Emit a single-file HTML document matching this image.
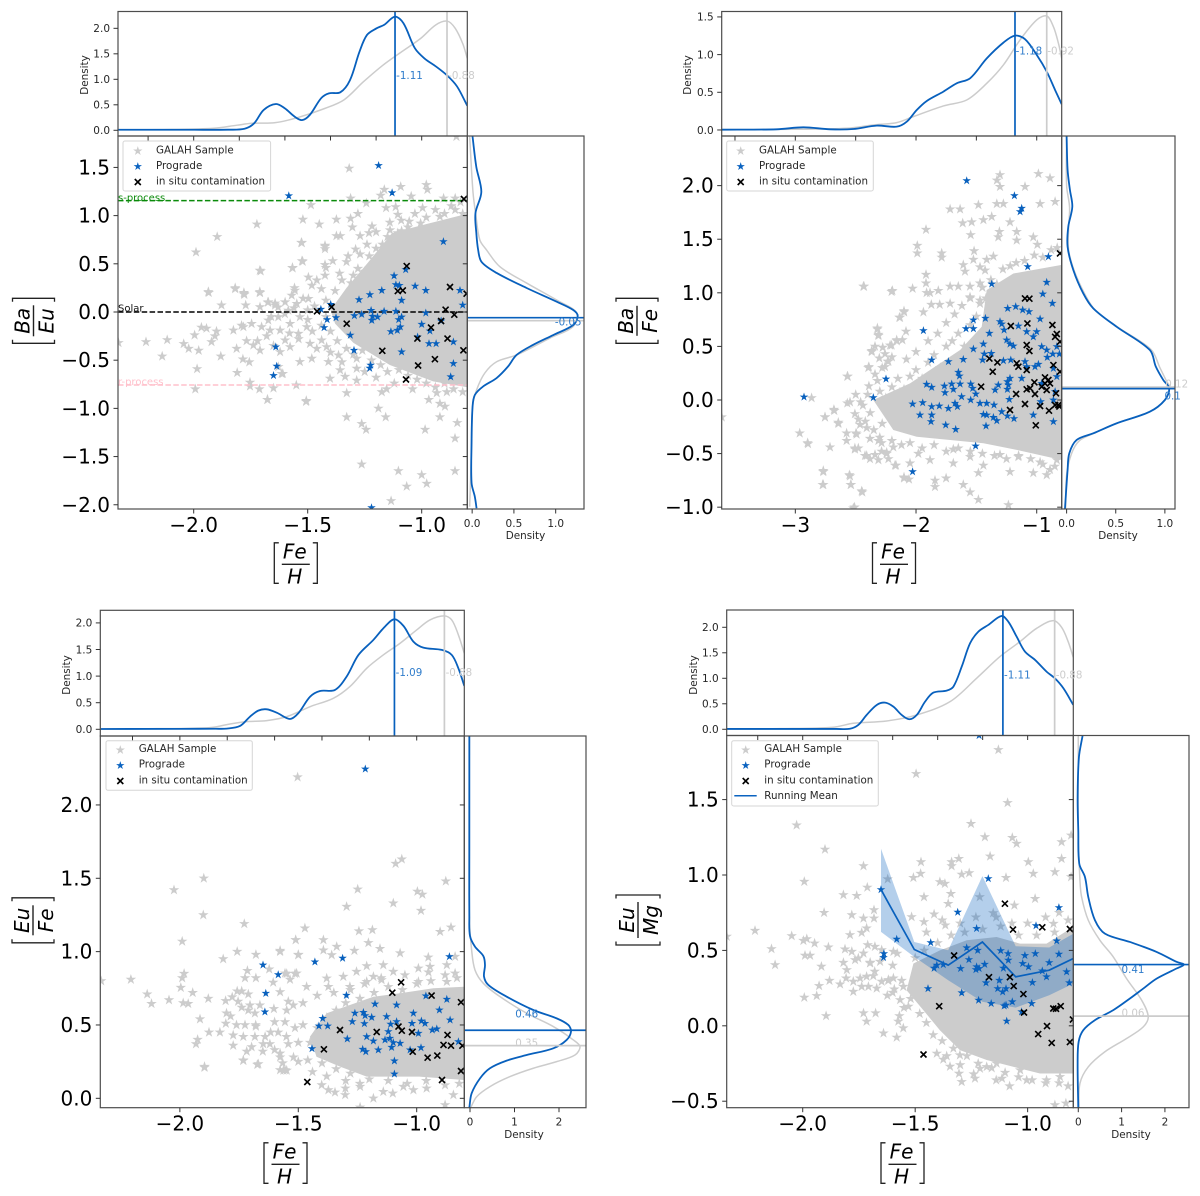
<!DOCTYPE html>
<html lang="en">
<head>
<meta charset="utf-8">
<title>Abundance ratios versus metallicity</title>
<style>
html,body{margin:0;padding:0;background:#fff;width:1200px;height:1196px;overflow:hidden}
svg{display:block;filter:blur(.3px)}
text{font-family:"DejaVu Sans","Liberation Sans",sans-serif;fill:#262626}
.leg{font-size:10.3px}
.small{font-size:10.4px}
.math{font-size:20px;font-style:italic;fill:#000;text-anchor:middle}
.br{fill:none;stroke:#222;stroke-width:1.3}
.bar{stroke:#222;stroke-width:1.4}
.box{fill:#fff;fill-opacity:.85;stroke:#d6d6d6;stroke-width:1}
.mk{stroke-width:.8;stroke-linejoin:miter}
</style>
</head>
<body>
<svg xmlns="http://www.w3.org/2000/svg" width="1200" height="1196" viewBox="0 0 1200 1196">
<rect width="1200" height="1196" fill="#fff"/>
<g id="panelA"></g>
<g id="panelB"></g>
<g id="panelC"></g>
<g id="panelD"></g>

<g>
<text x="118" y="201" font-size="10" style="fill:#0a8a0a">s-process</text>
<text x="118" y="311.5" font-size="10" style="fill:#111">Solar</text>
<text x="118" y="385" font-size="10" style="fill:#ffc0cb">r-process</text>
</g>

<g>
<rect class="box" x="123" y="141" width="147.6" height="50" rx="2"/>
<path class="mk" transform="translate(137.8,151)" fill="#cccccc" stroke="#cccccc" d="M0,-3.6L.81,-1.11 3.42,-1.11 1.31,.42 2.12,2.91 0,1.37 -2.12,2.91 -1.31,.42 -3.42,-1.11 -.81,-1.11Z"/>
<path class="mk" transform="translate(137.8,166.5) scale(.9)" fill="#0b63c0" stroke="#0b63c0" d="M0,-3.6L.81,-1.11 3.42,-1.11 1.31,.42 2.12,2.91 0,1.37 -2.12,2.91 -1.31,.42 -3.42,-1.11 -.81,-1.11Z"/>
<path transform="translate(137.8,182)" stroke="#000" stroke-width="1.6" fill="none" d="M-3,-3L3,3M-3,3L3,-3"/>
<text class="leg" x="156" y="153.5">GALAH Sample</text>
<text class="leg" x="156" y="169">Prograde</text>
<text class="leg" x="156" y="184.5">in situ contamination</text>
</g>

<g>
<rect class="box" x="726.7" y="141" width="146.6" height="50" rx="2"/>
<path class="mk" transform="translate(740.7,151)" fill="#cccccc" stroke="#cccccc" d="M0,-3.6L.81,-1.11 3.42,-1.11 1.31,.42 2.12,2.91 0,1.37 -2.12,2.91 -1.31,.42 -3.42,-1.11 -.81,-1.11Z"/>
<path class="mk" transform="translate(740.7,166.5) scale(.9)" fill="#0b63c0" stroke="#0b63c0" d="M0,-3.6L.81,-1.11 3.42,-1.11 1.31,.42 2.12,2.91 0,1.37 -2.12,2.91 -1.31,.42 -3.42,-1.11 -.81,-1.11Z"/>
<path transform="translate(740.7,182)" stroke="#000" stroke-width="1.6" fill="none" d="M-3,-3L3,3M-3,3L3,-3"/>
<text class="leg" x="759" y="153.5">GALAH Sample</text>
<text class="leg" x="759" y="169">Prograde</text>
<text class="leg" x="759" y="184.5">in situ contamination</text>
</g>

<g>
<rect class="box" x="106" y="740.7" width="146.3" height="49.6" rx="2"/>
<path class="mk" transform="translate(120.3,750)" fill="#cccccc" stroke="#cccccc" d="M0,-3.6L.81,-1.11 3.42,-1.11 1.31,.42 2.12,2.91 0,1.37 -2.12,2.91 -1.31,.42 -3.42,-1.11 -.81,-1.11Z"/>
<path class="mk" transform="translate(120.3,765.5) scale(.9)" fill="#0b63c0" stroke="#0b63c0" d="M0,-3.6L.81,-1.11 3.42,-1.11 1.31,.42 2.12,2.91 0,1.37 -2.12,2.91 -1.31,.42 -3.42,-1.11 -.81,-1.11Z"/>
<path transform="translate(120.3,781)" stroke="#000" stroke-width="1.6" fill="none" d="M-3,-3L3,3M-3,3L3,-3"/>
<text class="leg" x="138.7" y="752">GALAH Sample</text>
<text class="leg" x="138.7" y="767.7">Prograde</text>
<text class="leg" x="138.7" y="783.4">in situ contamination</text>
</g>

<g>
<rect class="box" x="731.7" y="740.7" width="146.6" height="65.3" rx="2"/>
<path class="mk" transform="translate(745.7,750)" fill="#cccccc" stroke="#cccccc" d="M0,-3.6L.81,-1.11 3.42,-1.11 1.31,.42 2.12,2.91 0,1.37 -2.12,2.91 -1.31,.42 -3.42,-1.11 -.81,-1.11Z"/>
<path class="mk" transform="translate(745.7,765.5) scale(.9)" fill="#0b63c0" stroke="#0b63c0" d="M0,-3.6L.81,-1.11 3.42,-1.11 1.31,.42 2.12,2.91 0,1.37 -2.12,2.91 -1.31,.42 -3.42,-1.11 -.81,-1.11Z"/>
<path transform="translate(745.7,781)" stroke="#000" stroke-width="1.6" fill="none" d="M-3,-3L3,3M-3,3L3,-3"/>
<line x1="734.3" x2="756.7" y1="795.7" y2="795.7" stroke="#0b63c0" stroke-width="1.5"/>
<text class="leg" x="764.3" y="752">GALAH Sample</text>
<text class="leg" x="764.3" y="767.7">Prograde</text>
<text class="leg" x="764.3" y="783.4">in situ contamination</text>
<text class="leg" x="764.3" y="799">Running Mean</text>
</g>

<g>
<text class="small" transform="translate(88,75) rotate(-90)" text-anchor="middle">Density</text>
<text class="small" x="525.5" y="539" text-anchor="middle">Density</text>
<text class="small" transform="translate(691,75) rotate(-90)" text-anchor="middle">Density</text>
<text class="small" x="1118" y="539" text-anchor="middle">Density</text>
<text class="small" transform="translate(70,675) rotate(-90)" text-anchor="middle">Density</text>
<text class="small" x="524" y="1138" text-anchor="middle">Density</text>
<text class="small" transform="translate(697,675) rotate(-90)" text-anchor="middle">Density</text>
<text class="small" x="1131" y="1138" text-anchor="middle">Density</text>
</g>

<g transform="translate(33.5,320.8) rotate(-90)">
<path class="br" d="M-19,-21H-22.5V21H-19M19,-21H22.5V21H19"/><line class="bar" x1="-15.5" x2="15.5" y1="0" y2="0"/>
<text class="math" x="0" y="-4">Ba</text><text class="math" x="0" y="20">Eu</text></g>
<g transform="translate(637,320.8) rotate(-90)">
<path class="br" d="M-19,-21H-22.5V21H-19M19,-21H22.5V21H19"/><line class="bar" x1="-15" x2="15" y1="0" y2="0"/>
<text class="math" x="0" y="-4">Ba</text><text class="math" x="0" y="20">Fe</text></g>
<g transform="translate(33,920.3) rotate(-90)">
<path class="br" d="M-19,-21H-22.5V21H-19M19,-21H22.5V21H19"/><line class="bar" x1="-15" x2="15" y1="0" y2="0"/>
<text class="math" x="0" y="-4">Eu</text><text class="math" x="0" y="20">Fe</text></g>
<g transform="translate(638,920) rotate(-90)">
<path class="br" d="M-21.5,-22H-25V22H-21.5M21.5,-22H25V22H21.5"/><line class="bar" x1="-18" x2="18" y1="0" y2="0"/>
<text class="math" x="0" y="-4">Eu</text><text class="math" x="0" y="20">Mg</text></g>

<g transform="translate(295.8,564.3)">
<path class="br" d="M-17,-21.5H-21.5V19H-17M17,-21.5H21.5V19H17"/><line class="bar" x1="-14" x2="14" y1="0" y2="0"/>
<text class="math" x="-1" y="-6">Fe</text><text class="math" x="-1" y="19">H</text></g>
<g transform="translate(894,564.3)">
<path class="br" d="M-17,-21.5H-21.5V19H-17M17,-21.5H21.5V19H17"/><line class="bar" x1="-14" x2="14" y1="0" y2="0"/>
<text class="math" x="-1" y="-6">Fe</text><text class="math" x="-1" y="19">H</text></g>
<g transform="translate(285.5,1164.3)">
<path class="br" d="M-17,-21.5H-21.5V19H-17M17,-21.5H21.5V19H17"/><line class="bar" x1="-14" x2="14" y1="0" y2="0"/>
<text class="math" x="-1" y="-6">Fe</text><text class="math" x="-1" y="19">H</text></g>
<g transform="translate(902.5,1164.3)">
<path class="br" d="M-17,-21.5H-21.5V19H-17M17,-21.5H21.5V19H17"/><line class="bar" x1="-14" x2="14" y1="0" y2="0"/>
<text class="math" x="-1" y="-6">Fe</text><text class="math" x="-1" y="19">H</text></g>
</svg>

<script>
/* ---------- Panel A: [Ba/Eu] ---------- */
const aGalahDense=[[-1.4,.02],[-1.33,.25],[-1.24,.5],[-1.13,.82],[-1,.9],[-.8,1.02],[-.8,-.78],[-.95,-.72],[-1.14,-.55],[-1.3,-.32],[-1.38,-.12]];
const aGalah=[[-1.934,.2],[-1.818,.24],[-1.778,.18],[-1.71,.2],[-1.878,.07],[-1.772,.07],[-1.675,.1],[-1.643,.09],[-2.209,-.31],[-2.116,-.29],[-2.33,-.32],[-1.996,-.24],[-1.966,-.16],[-1.944,-.17],[-1.9,-.2],[-1.907,-.25],[-1.922,-.31],[-2.044,-.33],[-2.022,-.38],[-1.978,-.4],[-2.138,-.46],[-1.881,-.46],[-1.826,-.19],[-1.79,-.14],[-1.768,-.3],[-1.812,-.38],[-1.784,-.49],[-1.756,-.52],[-1.985,-.59],[-1.809,-.63],[-1.753,-.73],[-1.753,-.77],[-1.712,-.8],[-1.65,-.79],[-1.993,-.8],[-1.676,-.91],[-1.506,-.92],[-1.55,-.76],[-1.609,-.64],
[-1.318,1.49],[-1.164,1.27],[-1.092,1.3],[-.98,1.32],[-.975,1.27],[-1.312,1.18],[-1.486,1.11],[-1.18,1.21],[-1.046,1.2],[-.904,1.18],[-.853,1.18],[-1.156,1.08],[-1.114,1.09],[-.996,1.08],[-.92,.99],[-1.28,1.02],[-1.243,1.13],[-1.521,.96],[-1.374,.96],[-1.312,.97],[-1.449,.91],[-1.723,.91],[-1.897,.78],[-1.99,.62],[-1.528,.72],[-1.424,.68],[-1.374,.79],[-1.357,.79],[-1.27,.79],[-1.231,.82],[-1.218,.89],[-1.304,.88],[-1.139,.85],[-1.088,.84],[-1.055,.94],[-1.005,.92],[-1.105,1.01],[-.82,1.02],[-.853,1.06],[-1.525,.53],[-1.567,.46],[-1.71,.43],[-1.497,.36],[-1.424,.49],[-1.424,.38],[-1.39,.53],[-1.323,.58],[-1.29,.65],[-1.24,.7],[-1.172,.7],[-1.105,.82],[-1.818,.25],[-1.78,.2],[-1.71,.21],[-1.936,.21],[-1.558,.25],[-.848,1.82],
[-1.329,-1.09],[-1.263,-1.16],[-1.244,-1.22],[-1.158,-1.09],[-1.19,-1],[-.985,-1.22],[-.92,-1.09],[-.844,-1.15],[-.854,-1.31],[-.969,-.91],[-.92,-.95],[-.898,-.98],[-1.507,-.93],[-1.677,-.91],[-1.263,-1.58],[-1.102,-1.65],[-1,-1.69],[-.854,-1.65],[-1.066,-1.81],[-.978,-1.78],[-1.134,-1.96],[-1.329,-.84],[-1.175,-.83],[-1.154,-.8],[-.934,-.84],[-.89,-.83],[-1.285,-.71],[-1.402,-.69],[-1.336,-.67],[-1.614,-.64],
[-1.706,.424],[-1.566,.455],[-1.522,.524],[-1.526,.717],[-1.424,.69],[-1.424,.655],[-1.779,.19],[-1.709,.2],[-1.556,.224],[-1.57,.172],[-1.482,.276],[-1.599,.103],[-1.643,.069],[-1.673,.103],[-1.709,.052],[-1.497,.138],[-1.548,.086],[-1.585,.017],[-1.629,-.052],[-1.673,-.086],[-1.702,-.155],[-1.746,-.121],[-1.782,-.155],[-1.534,-.052],[-1.577,-.121],[-1.621,-.19],[-1.504,-.155],[-1.541,-.224],[-1.599,-.293],[-1.49,-.328],[-1.439,-.293],[-1.534,-.517],[-1.482,-.483],[-1.409,-.517],[-1.629,-.569],[-1.417,-.362],[-1.365,-.448],[-1.285,-.586],[-1.358,-.603],[-1.285,-.483],[-1.738,-.345],[-1.709,-.397],[-1.665,-.19],[-1.621,-.414],[-1.577,-.362],
[-1.42,.12],[-1.38,.22],[-1.35,.33],[-1.31,.3],[-1.28,.45],[-1.25,.42],[-1.23,.58],[-1.2,.66],[-1.17,.62],[-1.15,.78],[-1.12,.72],[-1.09,.95],[-1.06,.88],[-1.03,1.02],[-.98,.98],[-.94,1.06],[-.9,1.02],[-.87,1.1],[-.83,1.14],[-.81,.98],[-1.2,.52],[-1.3,.38],[-1.36,.4],[-1.44,.24],[-1.47,.06],[-1.5,.02],[-1.52,.14],[-1.46,.33],[-1.42,.46],[-1.33,.52],[-1.27,.6],[-1.2,.83],[-1.14,.93],
[-1.42,-.05],[-1.44,-.14],[-1.4,-.2],[-1.37,-.3],[-1.33,-.38],[-1.3,-.44],[-1.26,-.4],[-1.22,-.5],[-1.18,-.55],[-1.15,-.62],[-1.1,-.6],[-1.06,-.66],[-1.02,-.7],[-.98,-.74],[-.94,-.78],[-.9,-.74],[-.86,-.8],[-.82,-.83],[-1.48,-.2],[-1.5,-.08],[-1.46,-.38],[-1.4,-.42],[-1.35,-.52],[-1.25,-.62],[-1.2,-.68],[-1.12,-.74],[-1.04,-.8],[-1.56,.04],[-1.6,-.02],[-1.63,.05],[-1.54,-.28],[-1.58,-.22],[-1.66,-.05],[-1.68,-.25],[-1.72,-.3],[-1.65,-.35]];
const aPrograde=[[-.905,.73],[-1.07,.44],[-1.121,.376],[-1.113,.283],[-1.098,.276],[-1.029,.269],[-.982,.224],[-1.175,.224],[-1.227,.179],[-1.275,.128],[-1.088,.121],[-.832,.224],[-.82,.072],[-1.442,.028],[-1.399,.079],[-1.222,.017],[-1.165,.007],[-1.113,.007],[-.982,-.01],[-1.295,-.038],[-1.263,-.024],[-1.216,-.045],[-1.194,-.052],[-1.219,-.086],[-1.376,-.059],[-1.415,-.079],[-1.428,-.162],[-1.088,-.052],[-1.101,-.079],[-1.094,-.155],[-1.107,-.19],[-1.135,-.203],[-1.313,-.241],[-1,-.128],[-.964,-.197],[-.915,-.093],[-.861,-.31],[-.968,-.328],[-.937,-.328],[-1.297,-.397],[-1.088,-.414],[-1.224,-.552],[-1.228,-.583],[-.861,-.534],[-.873,-.672],[-1.64,-.362],[-1.636,-.562],[-1.65,-.659],[-1.018,-.259],[-1.22,-2.03],[-1.189,1.52],[-1.13,1.237],[-1.583,1.206]];
const aContamination=[[-1.066,.476],[-1.105,.217],[-1.083,.224],[-.876,.259],[-.803,.19],[-1.395,.052],[-1.459,.007],[-.895,.024],[-.857,-.028],[-1.329,-.121],[-.915,-.093],[-.959,-.162],[-1.019,-.276],[-.887,-.276],[-1.173,-.403],[-.817,-.397],[-.942,-.49],[-1.016,-.555],[-1.069,-.7],[-.815,1.172]];
const aTopProgradeDensity=[[-2.332,.01],[-2,.01],[-1.85,.012],[-1.777,.03],[-1.735,.137],[-1.693,.4],[-1.639,.516],[-1.6,.43],[-1.558,.27],[-1.525,.2],[-1.491,.3],[-1.441,.63],[-1.407,.725],[-1.357,.745],[-1.315,.98],[-1.273,1.54],[-1.24,1.87],[-1.198,2],[-1.164,2.07],[-1.117,2.23],[-1.08,2.1],[-1.03,1.61],[-.988,1.41],[-.937,1.25],[-.887,1.07],[-.845,.86],[-.8,.48]];
const aTopGalahDensity=[[-2.332,.01],[-2.1,.015],[-1.911,.04],[-1.81,.1],[-1.743,.137],[-1.642,.15],[-1.54,.255],[-1.424,.43],[-1.34,.6],[-1.256,.95],[-1.172,1.27],[-1.088,1.54],[-1.005,1.8],[-.937,2.07],[-.887,2.14],[-.853,2],[-.82,1.7],[-.8,1.41]];
const aRightProgradeDensity=[[.004,1.826],[.05,1.504],[.11,1.245],[.04,1.027],[.05,.82],[.072,.643],[.113,.519],[.293,.405],[.652,.249],[1.012,.107],[1.21,.021],[1.264,-.041],[1.21,-.135],[.971,-.239],[.728,-.342],[.532,-.446],[.428,-.567],[.293,-.685],[.128,-.775],[.032,-.861],[.005,-.982],[-.007,-1.359],[-.007,-1.774],[.032,-1.916],[.053,-2.036]];
const aRightGalahDensity=[[-.03,1.826],[.01,1.245],[.044,1.006],[.092,.747],[.173,.643],[.332,.47],[.652,.3],[1.012,.124],[1.252,-.01],[1.207,-.152],[.932,-.27],[.532,-.446],[.293,-.516],[.152,-.633],[.053,-.809],[.005,-.982],[-.012,-1.566],[-.03,-2.02]];
const aXTicks=[-2,-1.5,-1];
const aXTickLabels=['\u22122.0','\u22121.5','\u22121.0'];
const aYTicks=[1.5,1,.5,0,-.5,-1,-1.5,-2];
const aYTickLabels=['1.5','1.0','0.5','0.0','\u22120.5','\u22121.0','\u22121.5','\u22122.0'];
const aTopXTicks=[-2.2,-2,-1.8,-1.6,-1.4,-1.2,-1];
const aTopYTicks=[0,.5,1,1.5,2];
const aTopYTickLabels=['0.0','0.5','1.0','1.5','2.0'];
const aRightXTicks=[0,.5,1];
const aRightXTickLabels=['0.0','0.5','1.0'];
const aTopMeans=[-.889,-1.117];
const aTopMeanLabels=['-0.88','-1.11'];
const aTopMeanLabelAt=[[-.884,1.08],[-1.112,1.08]];
const aRightMeans=[-.09,-.059];
const aRightMeanLabels=['-0.05'];
const aRightMeanLabelAt=[[1.15,-.103]];
const aRefLineValues=[1.155,0,-.757];

/* ---------- Panel B: [Ba/Fe] ---------- */
const bGalahDense=[[-2.354,0],[-2.05,.155],[-1.884,.28],[-1.635,.466],[-1.456,.684],[-1.414,1.026],[-1.193,1.18],[-.793,1.26],[-.793,-.56],[-1.166,-.466],[-1.442,-.404],[-1.718,-.373],[-1.994,-.342],[-2.188,-.28]];
const bGalah=[[-2.865,.02],[-2.964,-.31],[-2.898,-.4],[-2.754,-.16],[-2.68,-.09],[-2.644,-.21],[-2.768,-.66],[-2.773,-.79],[-2.713,-.44],[-2.575,-.38],[-2.552,-.7],[-2.539,-.79],[-2.45,-.85],[-2.51,-1],[-3.61,-.16],[-2.431,1.06],[-2.196,1.02],[-2.1,.83],[-2.138,.77],[-2.32,.67],[-2.312,.61],[-2.367,.46],[-2.34,.5],[-2.276,.49],[-2.202,.51],[-2.16,.56],[-2.113,.56],[-2.083,.64],[-2.304,.39],[-2.257,.43],[-2.235,.36],[-2.39,.31],[-2.569,.22],[-2.34,.24],[-2.257,.31],[-2.39,.13],[-2.547,-.02],[-2.569,-.03],[-2.459,-.02],[-2.506,-.13],[-2.478,-.18],[-2.464,-.23],[-2.409,-.26],[-2.497,-.31],[-2.381,-.36],[-2.312,-.38],[-2.285,-.4],[-2.506,-.45],[-2.478,-.45],[-2.188,-.44],[-2.409,-.52],[-2.381,-.55],[-2.312,-.56],[-2.34,-.51],[-2.285,-.48],[-2.243,-.49],[-2.229,-.55],[-2.166,-.61],[-2.1,-.72],[-2.058,-.74],
[-1.304,2.1],[-.986,2.11],[-.89,2.07],[-1.304,1.99],[-1.33,2.05],[-1.097,1.99],[-1.483,1.82],[-1.718,1.78],[-1.635,1.78],[-1.331,1.83],[-1.276,1.83],[-.972,1.83],[-.848,1.85],[-1.917,1.59],[-1.613,1.65],[-1.539,1.66],[-1.442,1.68],[-1.373,1.71],[-1.221,1.66],[-1.547,1.54],[-1.309,1.57],[-1.318,1.52],[-1.166,1.57],[-1.166,1.49],[-1.028,1.52],[-.994,1.45],[-1.989,1.44],[-1.989,1.37],[-1.787,1.37],[-1.787,1.33],[-1.519,1.39],[-1.525,1.31],[-1.359,1.34],[-1.414,1.31],[-1.608,1.26],[-1.594,1.2],[-1.47,1.24],[-1.428,1.21],[-1.917,1.17],[-1.917,1.09],[-2.436,1.06],[-2.202,1.01],[-2.028,1.04],[-1.912,1],[-1.884,1],[-1.815,1.02],[-1.718,1.06],[-1.65,1.06],[-1.553,1.06],[-1.47,1.09],[-1.873,.89],[-1.804,.89],[-1.718,.9],[-1.553,.96],[-1.47,.93],[-2.099,.82],[-2.133,.77],[-1.939,.82],[-2.32,.66],[-2.312,.6],[-2.16,.55],[-2.215,.51],[-2.367,.45],[-2.229,.36],[-2.566,.22],[-2.395,.3],[-2.677,-.1],[-2.754,-.16],[-2.643,-.22],[-2.575,-.31],[-2.492,-.32],[-2.895,-.41],[-2.506,-.46],[-2.423,-.52],[-2.243,-.5],[-2.174,-.61],[-2.05,-.59],[-1.981,-.5],[-1.884,-.56],[-1.691,-.59],[-2.768,-.67],[-2.768,-.79],[-2.547,-.71],[-2.541,-.79],[-2.445,-.86],[-2.099,-.73],[-1.843,-.75],[-1.751,-.73],[-1.843,-.81],[-1.608,-.79],[-1.552,-.86],[-1.483,-.93],[-1.483,-.68],[-1.235,-.98],[-1.221,-.67],[-1.028,-.68],[-.917,-.7],[-.89,-.65],[-1.304,-.51],[-1.152,-.53],[-.972,-.58],[-.834,-.56],[-1.442,-.61],[-1.552,-.53],[-1.691,-.46],[-2.52,-1.01],
[-2.3,.08],[-2.25,.02],[-2.2,.12],[-2.15,.2],[-2.1,.1],[-2.05,.22],[-2,.28],[-1.95,.2],[-1.9,.35],[-1.85,.42],[-1.8,.3],[-1.75,.5],[-1.7,.55],[-1.65,.62],[-1.6,.5],[-1.55,.7],[-1.5,.78],[-1.47,.9],[-1.45,1.05],[-1.42,.95],[-1.38,1.12],[-1.33,1.08],[-1.28,1.22],[-1.22,1.25],[-1.17,1.28],[-1.1,1.3],[-1.02,1.35],[-.95,1.33],[-.88,1.4],[-.83,1.42],[-1.75,.72],[-1.68,.8],[-1.82,.62],[-1.9,.55],[-2,.45],[-2.08,.38],[-1.62,.88],[-1.55,.95],[-2.32,.18],[-2.4,.05],[-2.44,-.05],[-2.38,-.12],[-2.42,-.2],[-2.35,-.28],[-2.28,-.22],[-2.3,-.35],[-2.2,-.38],[-2.12,-.42],[-2.05,-.4],[-1.95,-.45],[-1.85,-.42],[-1.75,-.48],[-1.65,-.45],[-1.55,-.48],[-1.45,-.5],[-1.35,-.52],[-1.25,-.55],[-1.15,-.52],[-1.05,-.55],[-.95,-.6],[-.85,-.62],[-2.5,.05],[-2.28,.3],[-2.2,.4]];
const bPrograde=[[-1.58,2.046],[-1.185,1.906],[-1.124,1.788],[-1.138,1.757],[-.903,1.337],[-1.075,1.244],[-1.373,1.082],[-.917,1.098],[-.95,.989],[-.87,.902],[-1.24,.855],[-1.174,.871],[-1.116,.84],[-1.064,.824],[-.972,.756],[-1.304,.731],[-1.29,.709],[-1.425,.762],[-1.525,.746],[-1.586,.665],[-1.525,.665],[-1.939,.647],[-1.392,.622],[-1.27,.653],[-1.152,.69],[-1.083,.637],[-1,.637],[-1.028,.59],[-1.221,.522],[-1.249,.56],[-1.193,.504],[-1.442,.522],[-1.525,.476],[-.959,.498],[-.834,.498],[-.867,.429],[-1.87,.373],[-1.732,.358],[-1.608,.379],[-1.434,.429],[-1.448,.373],[-1.376,.435],[-1.215,.373],[-.912,.398],[-.812,.429],[-1.276,.367],[-1.083,.311],[-.986,.333],[-1.014,.311],[-1.097,.358],[-1.649,.258],[-1.64,.224],[-2.249,.196],[-1.912,.146],[-1.87,.118],[-1.765,.131],[-1.704,.149],[-1.635,.149],[-1.76,.068],[-1.69,.1],[-1.547,.149],[-1.53,.109],[-1.505,.056],[-1.318,.14],[-1.243,.171],[-1.221,.202],[-1.235,.14],[-1.243,.1],[-1.124,.202],[-2.354,.022],[-2.928,.028],[-2.028,-.037],[-1.945,-.025],[-1.87,-.062],[-1.807,-.056],[-1.732,-.078],[-1.677,-.031],[-1.657,-.062],[-1.622,.031],[-1.547,0],[-1.47,-.031],[-1.414,-.031],[-1.354,-.047],[-1.227,.006],[-1.345,.093],[-1.967,-.14],[-1.87,-.14],[-1.876,-.202],[-1.754,-.233],[-1.671,-.274],[-1.442,-.134],[-1.414,-.14],[-1.359,-.162],[-1.29,-.109],[-1.243,-.149],[-1.188,-.174],[-1.331,-.193],[-1.42,-.243],[-1.028,-.14],[-.862,-.202],[-.967,-.016],[-.862,0],[-.848,.078],[-1.506,-.429],[-2.028,-.669],[-.959,.155],[-.834,.218],[-.862,.295],[-.917,.466]];
const bContamination=[[-1.097,.948],[-1.061,.945],[-1.215,.69],[-1.077,.715],[-.87,.7],[-.834,.616],[-.848,.59],[-.807,.544],[-1.083,.513],[-1.061,.457],[-1.392,.386],[-1.326,.351],[-1.365,.264],[-1.166,.342],[-1.152,.311],[-1.083,.28],[-.862,.326],[-.807,.264],[-1.461,.124],[-1.019,.165],[-.931,.211],[-.903,.187],[-.931,.155],[-.959,.124],[-.89,.155],[-1.055,.109],[-1.083,.1],[-1.171,.056],[-1.014,.056],[-.84,.062],[-.917,.093],[-1.097,-.037],[-.972,-.056],[-1.221,-.093],[-.898,-.1],[-.848,-.047],[-.812,-.062],[-.82,-.047],[-1.008,-.236],[-.807,1.368]];
const bTopProgradeDensity=[[-3.61,.004],[-3.154,.009],[-2.933,.035],[-2.712,.009],[-2.519,.013],[-2.326,.058],[-2.16,.044],[-2.077,.11],[-1.994,.265],[-1.911,.385],[-1.773,.509],[-1.663,.619],[-1.552,.686],[-1.414,.95],[-1.276,1.159],[-1.18,1.252],[-1.097,1.204],[-1,.996],[-.917,.774],[-.848,.531],[-.793,.341]];
const bTopGalahDensity=[[-3.61,.004],[-3.016,.009],[-2.574,.022],[-2.353,.066],[-2.16,.097],[-2.022,.177],[-1.773,.319],[-1.58,.398],[-1.414,.619],[-1.276,.863],[-1.138,1.195],[-1,1.46],[-.917,1.513],[-.862,1.372],[-.82,1.15],[-.793,.95]];
const bRightProgradeDensity=[[0,2.46],[.01,2.146],[.034,1.959],[.058,1.803],[.017,1.617],[.01,1.43],[.068,1.213],[.169,.995],[.271,.855],[.508,.684],[.847,.466],[.908,.311],[.983,.187],[1.044,.109],[1,0],[.847,-.109],[.508,-.218],[.271,-.311],[.102,-.373],[.027,-.498],[.01,-.653],[-.017,-1.017]];
const bRightGalahDensity=[[0,2.46],[0,2],[.03,1.8],[.02,1.6],[.02,1.4],[.08,1.2],[.19,.98],[.29,.84],[.52,.68],[.86,.47],[.95,.3],[1.02,.17],[1.05,.12],[1,0],[.84,-.11],[.5,-.22],[.28,-.31],[.13,-.38],[.05,-.5],[0,-.7],[-.01,-1.017]];
const bXTicks=[-3,-2,-1];
const bXTickLabels=['\u22123','\u22122','\u22121'];
const bYTicks=[2,1.5,1,.5,0,-.5,-1];
const bYTickLabels=['2.0','1.5','1.0','0.5','0.0','\u22120.5','\u22121.0'];
const bTopXTicks=[-3.5,-3,-2.5,-2,-1.5,-1];
const bTopYTicks=[0,.5,1,1.5];
const bTopYTickLabels=['0.0','0.5','1.0','1.5'];
const bRightXTicks=[0,.5,1];
const bRightXTickLabels=['0.0','0.5','1.0'];
const bTopMeans=[-.917,-1.18];
const bTopMeanLabels=['-0.92','-1.18'];
const bTopMeanLabelAt=[[-.912,1.05],[-1.175,1.05]];
const bRightMeans=[.12,.106];
const bRightMeanLabels=['0.12','0.1'];
const bRightMeanLabelAt=[[1.12,.149],[1.079,.04]];

/* ---------- Panel C: [Eu/Fe] ---------- */
const cGalahDense=[[-1.451,.42],[-1.38,.58],[-1.282,.636],[-1.183,.693],[-1.07,.716],[-.93,.75],[-.8,.76],[-.8,.125],[-.99,.148],[-1.211,.148],[-1.324,.216],[-1.423,.284]];
const cGalah=[[-1.503,2.19],[-1.899,1.5],[-2.025,1.42],[-1.901,1.25],[-1.728,1.19],[-1.99,1.07],[-1.511,1.08],[-1.758,1],[-1.679,.98],[-1.577,1],[-1.5,.98],[-1.817,.95],[-2.207,.81],[-2.332,.8],[-1.982,.85],[-1.99,.82],[-1.715,.87],[-1.725,.82],[-1.679,.82],[-1.623,.88],[-1.606,.79],[-1.535,.81],[-1.549,.85],[-1.514,.85],[-1.996,.755],[-2.138,.71],[-1.946,.72],[-2.12,.645],[-2.046,.67],[-1.986,.65],[-1.965,.645],[-1.88,.68],[-1.807,.665],[-1.779,.69],[-1.758,.73],[-1.739,.73],[-1.711,.71],[-1.754,.66],[-1.739,.62],[-1.704,.635],[-1.662,.635],[-1.577,.725],[-1.915,.54],[-1.803,.58],[-1.786,.56],[-1.711,.6],[-1.683,.58],[-1.603,.61],[-1.542,.66],[-1.521,.635],[-1.806,.51],[-1.761,.5],[-1.877,.45],[-1.831,.45],[-1.775,.43],[-1.725,.5],[-1.679,.49],[-1.732,.42],[-1.683,.42],[-1.925,.4],[-1.932,.37],[-1.775,.36],[-1.718,.32],[-1.648,.37],[-1.62,.37],[-1.697,.35],[-1.732,.26],[-1.673,.23],[-1.896,.21],[-1.577,.28],[-1.566,.24],[-1.563,.19],[-1.549,.19],[-1.617,.45],[-1.585,.45],[-1.556,.52],[-1.549,.6],[-1.514,.48],[-1.542,.37],[-1.5,.25],
[-1.063,1.63],[-1.089,1.6],[-.877,1.48],[-1.249,1.425],[-.997,1.41],[-.976,1.39],[-1.099,1.33],[-1.296,1.307],[-.982,1.28],[-1.472,1.16],[-1.244,1.14],[-1.187,1.148],[-.901,1.136],[-.855,1.166],[-1.511,1.08],[-1.394,1.08],[-1.204,1.06],[-1.338,1.034],[-1.394,1.01],[-1.155,1.02],[-1.263,1.007],[-1.07,.99],[-1.359,.977],[-1.577,1.007],[-1.5,.977],[-.951,.961],[-.838,.966],[-1.211,.902],[-1.141,.909],[-1.099,.864],[-.993,.886],[-.944,.898],[-.873,.909],[-1.31,.83],[-1.254,.864],[-1.183,.83],[-1.38,.818],[-1.556,.852],[-1.507,.852],[-.838,.852],[-1.465,.761],[-1.373,.761],[-1.282,.761],[-1.211,.795],[-1.148,.807],[-.993,.795],[-.873,.795],[-1.577,.193],[-1.556,.193],[-1.373,.057],[-1.301,.068],[-1.302,.023],[-1.345,.041],[-1.401,.091],[-1.183,0],[-1.101,.034],[-1.141,.045],[-1.014,.057],[-.88,-.045],[-1.239,-.061],[-1.732,.257],[-1.669,.234],[-1.896,.216],[-1.577,.307],[-1.239,.08],[-1.056,.08],[-.958,.068],[-.845,.023],
[-1.45,.38],[-1.42,.48],[-1.38,.55],[-1.34,.6],[-1.3,.65],[-1.24,.68],[-1.18,.72],[-1.12,.76],[-1.06,.74],[-1,.78],[-.94,.8],[-.88,.84],[-.83,.82],[-1.48,.5],[-1.5,.38],[-1.52,.28],[-1.46,.26],[-1.4,.24],[-1.34,.2],[-1.28,.17],[-1.2,.13],[-1.12,.12],[-1.04,.1],[-.96,.12],[-.88,.09],[-.82,.1],[-1.24,.1],[-1.3,.12],[-1.38,.15],[-1.44,.18],[-1.55,.42],[-1.6,.52],[-1.64,.42],[-1.68,.5],[-1.6,.33],[-1.65,.32],[-1.48,.65],[-1.42,.7],[-1.35,.72],[-1.28,.74],[-1.22,.78],[-1.15,.82],[-1.05,.84],[-.95,.86]];
const cPrograde=[[-1.217,2.245],[-1.649,.909],[-1.585,.843],[-1.43,.93],[-1.313,.955],[-.862,.966],[-1.637,.716],[-1.641,.589],[-1.297,.702],[-1.176,.643],[-1.085,.636],[-.961,.698],[-.873,.675],[-.904,.602],[-1.261,.58],[-1.225,.586],[-1.218,.564],[-1.19,.552],[-1.014,.58],[-1.127,.557],[-1.397,.545],[-1.272,.523],[-1.221,.509],[-1.085,.523],[-1.11,.505],[-1.02,.511],[-.98,.527],[-.965,.511],[-.859,.534],[-1.413,.493],[-1.376,.493],[-1.12,.455],[-.993,.443],[-.934,.466],[-.915,.473],[-1.211,.42],[-1.293,.405],[-1.183,.391],[-1.134,.398],[-1.113,.409],[-1.099,.38],[-1.07,.375],[-1.106,.348],[-.982,.345],[-.824,.386],[-1.442,.339],[-1.228,.334],[-1.215,.318],[-1.162,.33],[-1.028,.33],[-1.094,.255],[-1.094,.166]];
const cContamination=[[-1.066,.791],[-1.103,.72],[-.937,.7],[-.813,.655],[-1.324,.466],[-1.169,.452],[-1.077,.489],[-1.063,.461],[-1.02,.452],[-.87,.432],[-.887,.364],[-.855,.359],[-.807,.359],[-1.392,.334],[-1.017,.318],[-.954,.277],[-.913,.291],[-.813,.186],[-.893,.125],[-1.462,.111]];
const cTopProgradeDensity=[[-2.334,.006],[-2,.008],[-1.85,.01],[-1.802,.013],[-1.746,.063],[-1.704,.238],[-1.669,.351],[-1.633,.376],[-1.591,.313],[-1.535,.194],[-1.5,.301],[-1.45,.614],[-1.408,.72],[-1.345,.74],[-1.296,.991],[-1.246,1.398],[-1.183,1.68],[-1.134,1.931],[-1.094,2.069],[-1.056,1.944],[-1.014,1.649],[-.972,1.536],[-.894,1.492],[-.852,1.398],[-.824,1.147],[-.799,.815]];
const cTopGalahDensity=[[-2.334,.006],[-2.1,.012],[-1.873,.031],[-1.788,.1],[-1.718,.144],[-1.633,.163],[-1.549,.238],[-1.45,.426],[-1.352,.583],[-1.282,.803],[-1.211,1.147],[-1.141,1.398],[-1.07,1.618],[-1,1.868],[-.944,2.056],[-.883,2.132],[-.852,2.056],[-.824,1.774],[-.799,1.429]];
const cRightProgradeDensity=[[-.015,2.47],[-.015,1.693],[-.015,1.239],[0,1.107],[.112,1.034],[.3,.97],[.337,.909],[.315,.83],[.412,.773],[.824,.693],[1.423,.602],[1.948,.545],[2.21,.5],[2.27,.455],[2.172,.398],[1.873,.341],[1.273,.295],[.824,.257],[.449,.205],[.225,.136],[.037,.034],[-.015,-.064]];
const cRightGalahDensity=[[-.015,2.47],[-.015,1.239],[.037,1.011],[.112,.875],[.3,.784],[.674,.693],[1.273,.58],[1.873,.489],[2.322,.398],[2.472,.352],[2.36,.295],[1.948,.25],[1.423,.205],[.899,.148],[.449,.08],[.15,.011],[.015,-.064]];
const cXTicks=[-2,-1.5,-1];
const cXTickLabels=['\u22122.0','\u22121.5','\u22121.0'];
const cYTicks=[2,1.5,1,.5,0];
const cYTickLabels=['2.0','1.5','1.0','0.5','0.0'];
const cTopXTicks=[-2.2,-2,-1.8,-1.6,-1.4,-1.2,-1];
const cTopYTicks=[0,.5,1,1.5,2];
const cTopYTickLabels=['0.0','0.5','1.0','1.5','2.0'];
const cRightXTicks=[0,1,2];
const cRightXTickLabels=['0','1','2'];
const cTopMeans=[-.883,-1.094];
const cTopMeanLabels=['-0.88','-1.09'];
const cTopMeanLabelAt=[[-.878,1.07],[-1.089,1.07]];
const cRightMeans=[.359,.464];
const cRightMeanLabels=['0.35','0.46'];
const cRightMeanLabelAt=[[1.274,.38],[1.274,.575]];

/* ---------- Panel D: [Eu/Mg] ---------- */
const dGalahDense=[[-1.39,.5],[-1.271,.567],[-1.138,.589],[-1.034,.545],[-.916,.545],[-.797,.656],[-.797,-.316],[-.945,-.316],[-1.064,-.272],[-1.182,-.227],[-1.301,-.161],[-1.39,-.029],[-1.464,.104],[-1.538,.236],[-1.508,.413]];
const dGalah=[[-2.027,1.33],[-1.901,1.17],[-1.73,1.06],[-1.993,.956],[-1.713,.918],[-1.819,.868],[-1.76,.863],[-1.905,.75],[-1.782,.735],[-1.73,.713],[-1.683,.768],[-1.683,.713],[-1.622,.973],[-2.212,.631],[-2.338,.592],[-2.049,.596],[-1.997,.565],[-1.982,.576],[-1.947,.547],[-1.886,.521],[-1.79,.603],[-1.738,.618],[-1.716,.647],[-2.139,.51],[-2.123,.404],[-1.99,.466],[-1.967,.466],[-1.812,.508],[-1.782,.492],[-1.711,.536],[-1.679,.525],[-1.649,.503],[-1.917,.393],[-1.819,.419],[-1.804,.371],[-1.767,.437],[-1.753,.448],[-1.73,.481],[-1.701,.415],[-1.656,.426],[-1.597,.492],[-1.881,.3],[-1.927,.265],[-1.807,.316],[-1.834,.276],[-1.775,.294],[-1.745,.316],[-1.716,.327],[-1.686,.331],[-1.775,.227],[-1.738,.26],[-1.708,.26],[-1.671,.249],[-1.649,.294],[-1.619,.305],[-1.597,.316],[-1.993,.188],[-1.938,.199],[-1.624,.201],[-1.593,.243],[-1.567,.172],[-1.553,.26],[-1.53,.128],[-1.896,.066],[-1.73,.084],[-1.716,.029],[-1.676,.084],[-1.57,.066],[-1.575,.029],[-1.553,-.015],[-1.641,-.049],[-1.582,-.077],
[-1.13,1.83],[-1.496,1.671],[-1.089,1.479],[-1.252,1.34],[-1.19,1.252],[-1.068,1.247],[-1.049,1.208],[-.807,1.263],[-.849,1.219],[-1.167,1.124],[-.849,1.108],[-.997,1.086],[-1.338,1.086],[-1.338,1.06],[-1.306,1.108],[-1.474,1.086],[-1.476,1.009],[-1.508,.982],[-1.293,1.004],[-1.26,1.013],[-1.39,.954],[-1.368,.943],[-.975,1.009],[-.879,1.02],[-1.096,.982],[-.807,.987],[-1.341,.876],[-1.461,.854],[-1.416,.74],[-1.353,.81],[-.967,.843],[-1.059,.799],[-1.516,.722],[-1.461,.689],[-1.366,.667],[-.885,.678],[-1.153,.748],[-1.213,.854],
[-.879,-.525],[-.83,-.514],[-1.293,-.371],[-1.234,-.349],[-1.004,-.36],[-1.114,-.349],[-1.404,-.183],[-1.375,-.223],[-1.345,-.27],[-1.305,-.316],[-1.301,-.194],[-1.212,-.283],[-1.182,-.272],[-1.138,-.249],[-1.033,-.294],[-.856,-.338],[-.916,-.36],
[-1.6,.4],[-1.56,.3],[-1.52,.18],[-1.48,.08],[-1.45,.02],[-1.42,-.06],[-1.38,-.1],[-1.33,-.15],[-1.27,-.2],[-1.22,-.25],[-1.16,-.28],[-1.1,-.31],[-1.04,-.34],[-.98,-.36],[-.92,-.38],[-.86,-.38],[-.82,-.4],[-1.5,.45],[-1.46,.5],[-1.4,.55],[-1.34,.6],[-1.28,.62],[-1.2,.64],[-1.12,.66],[-1.04,.6],[-.96,.6],[-.88,.62],[-.82,.7],[-1.6,.22],[-1.55,.12],[-1.5,.3],[-1.62,.3],[-1.68,.36],[-1.7,.42],[-1.58,.48],[-1.45,.62],[-1.38,.7],[-1.3,.68],[-1.23,.72],[-1.14,.72],[-1.07,.68],[-1,.68],[-.92,.72],[-.86,.75],[-1.36,-.2],[-1.3,-.26],[-1.24,-.32],[-1.14,-.36],[-1.08,-.4]];
const dPrograde=[[-1.216,1.925],[-1.652,.903],[-1.582,.574],[-1.639,.479],[-1.641,.453],[-1.431,.552],[-1.311,.753],[-1.175,.976],[-.861,.784],[-.963,.664],[-1.227,.645],[-.871,.563],[-1.271,.517],[-1.222,.501],[-1.12,.499],[-1.087,.479],[-1.086,.435],[-1.012,.466],[-.966,.479],[-.861,.475],[-.904,.419],[-1.022,.413],[-.996,.391],[-1.261,.439],[-1.191,.408],[-1.404,.402],[-1.416,.382],[-1.375,.406],[-1.298,.38],[-1.227,.391],[-1.216,.38],[-1.23,.373],[-1.108,.382],[-.935,.364],[-.827,.358],[-.916,.325],[-1.126,.302],[-1.185,.285],[-.979,.287],[-.815,.285],[-1.443,.247],[-1.293,.219],[-1.133,.247],[-1.096,.247],[-1.111,.225],[-1.218,.17],[-1.162,.148],[-1.104,.132],[-1.096,.137],[-1.068,.159],[-.982,.148],[-1.027,.093],[-1.093,.031]];
const dContamination=[[-1.101,.81],[-1.065,.638],[-.935,.653],[-.812,.642],[-1.327,.466],[-1.172,.322],[-1.079,.322],[-1.062,.263],[-1.019,.21],[-1.393,.13],[-1.016,.088],[-.886,.115],[-.874,.113],[-.853,.13],[-.799,.042],[-.914,-.002],[-.953,-.055],[-.893,-.113],[-.812,-.108],[-1.463,-.19]];
const dTopProgradeDensity=[[-2.338,.007],[-2,.007],[-1.85,.007],[-1.79,.01],[-1.753,.085],[-1.716,.28],[-1.671,.477],[-1.634,.523],[-1.597,.444],[-1.56,.281],[-1.526,.196],[-1.493,.281],[-1.456,.542],[-1.419,.719],[-1.36,.758],[-1.33,.837],[-1.293,1.229],[-1.256,1.686],[-1.219,1.915],[-1.175,2.046],[-1.116,2.222],[-1.086,2.11],[-1.049,1.817],[-1.012,1.523],[-.967,1.36],[-.916,1.131],[-.879,1],[-.841,.804],[-.797,.477]];
const dTopGalahDensity=[[-2.338,.007],[-2.1,.012],[-1.864,.04],[-1.775,.118],[-1.627,.163],[-1.493,.281],[-1.345,.542],[-1.227,1],[-1.123,1.425],[-1.034,1.719],[-.96,1.98],[-.886,2.13],[-.849,2],[-.82,1.72],[-.797,1.41]];
const dRightProgradeDensity=[[.1,1.925],[.015,1.781],[-.015,1.517],[0,1.296],[.023,1.075],[.154,.987],[.231,.854],[.385,.7],[.615,.611],[1.192,.556],[1.808,.49],[2.269,.424],[2.438,.406],[2.269,.38],[1.808,.313],[1.5,.247],[1.192,.181],[.808,.104],[.385,.038],[.115,-.029],[.008,-.106],[-.015,-.249],[0,-.543]];
const dRightGalahDensity=[[0,1.925],[0,1.296],[.038,.965],[.077,.854],[.231,.7],[.5,.567],[.808,.457],[1.115,.313],[1.462,.17],[1.615,.06],[1.5,-.007],[1.115,-.084],[.615,-.172],[.231,-.272],[.038,-.382],[.015,-.543]];
const dRunningX=[-1.652,-1.504,-1.353,-1.201,-1.053,-.904,-.797];
const dRunningMean=[.903,.506,.402,.556,.325,.369,.446];
const dRunningUpper=[1.174,.556,.501,.993,.528,.519,.611];
const dRunningLower=[.623,.457,.302,.159,.121,.203,.28];
const dXTicks=[-2,-1.5,-1];
const dXTickLabels=['\u22122.0','\u22121.5','\u22121.0'];
const dYTicks=[1.5,1,.5,0,-.5];
const dYTickLabels=['1.5','1.0','0.5','0.0','\u22120.5'];
const dTopXTicks=[-2.2,-2,-1.8,-1.6,-1.4,-1.2,-1];
const dTopYTicks=[0,.5,1,1.5,2];
const dTopYTickLabels=['0.0','0.5','1.0','1.5','2.0'];
const dRightXTicks=[0,1,2];
const dRightXTickLabels=['0','1','2'];
const dTopMeans=[-.88,-1.11];
const dTopMeanLabels=['-0.88','-1.11'];
const dTopMeanLabelAt=[[-.875,1.07],[-1.105,1.07]];
const dRightMeans=[.064,.406];
const dRightMeanLabels=['0.06','0.41'];
const dRightMeanLabelAt=[[1.263,.085],[1.263,.375]];

/* ---------- drawing ---------- */
const NS='http://www.w3.org/2000/svg';
const BLUE='#0860bd',GREY='#cccccc',SPINE='#4d4d4d';
const STAR=[[0,-1],[.224,-.309],[.951,-.309],[.363,.118],[.588,.809],[0,.381],[-.588,.809],[-.363,.118],[-.951,-.309],[-.224,-.309]];
function starPath(R){return 'M'+STAR.map(p=>(p[0]*R).toFixed(2)+','+(p[1]*R).toFixed(2)).join('L')+'Z';}
const GALAH_D=starPath(3.9),PRO_D=starPath(3.2);
function linear(d0,d1,r0,r1){return v=>r0+(v-d0)/(d1-d0)*(r1-r0);}
function node(parent,tag,attrs){
  const el=document.createElementNS(NS,tag);
  for(const k in attrs)el.setAttribute(k,attrs[k]);
  parent.appendChild(el);
  return el;
}
function smoothPath(px){
  const n=px.length;
  const seg=[];
  for(let i=0;i<n-1;i++)seg.push(Math.max(Math.hypot(px[i+1][0]-px[i][0],px[i+1][1]-px[i][1]),.01));
  const tan=px.map((p,i)=>{
    const a=px[Math.max(i-1,0)],b=px[Math.min(i+1,n-1)];
    const d=(i>0?seg[i-1]:0)+(i<n-1?seg[i]:0);
    return [(b[0]-a[0])/d,(b[1]-a[1])/d];
  });
  let d='M'+px[0][0].toFixed(2)+','+px[0][1].toFixed(2);
  for(let i=0;i<n-1;i++){
    const s=seg[i]/3,p1=px[i],p2=px[i+1];
    d+='C'+(p1[0]+tan[i][0]*s).toFixed(2)+','+(p1[1]+tan[i][1]*s).toFixed(2)+' '+(p2[0]-tan[i+1][0]*s).toFixed(2)+','+(p2[1]-tan[i+1][1]*s).toFixed(2)+' '+p2[0].toFixed(2)+','+p2[1].toFixed(2);
  }
  return d;
}
function drawClip(root,id,box){
  const c=node(root,'clipPath',{id:id});
  node(c,'rect',{x:box.x0,y:box.y0,width:box.x1-box.x0,height:box.y1-box.y0});
}
function drawDense(g,pts,sx,sy){
  const el=node(g,'polygon',{points:pts.map(p=>sx(p[0]).toFixed(1)+','+sy(p[1]).toFixed(1)).join(' '),fill:GREY});
  
  
}
function drawGalah(g,pts,sx,sy){
  pts.forEach(p=>{
    const el=node(g,'path',{d:GALAH_D,fill:GREY,stroke:GREY,'stroke-width':1,transform:'translate('+sx(p[0]).toFixed(1)+','+sy(p[1]).toFixed(1)+')'});
    
    
  });
}
function drawPrograde(g,pts,sx,sy){
  pts.forEach(p=>{
    const el=node(g,'path',{d:PRO_D,fill:BLUE,stroke:BLUE,'stroke-width':.8,transform:'translate('+sx(p[0]).toFixed(1)+','+sy(p[1]).toFixed(1)+')'});
    
    
  });
}
function drawCrosses(g,pts,sx,sy){
  pts.forEach(p=>{
    const el=node(g,'path',{d:'M-3,-3L3,3M-3,3L3,-3',stroke:'#000','stroke-width':1.6,fill:'none',transform:'translate('+sx(p[0]).toFixed(1)+','+sy(p[1]).toFixed(1)+')'});
    
    
  });
}
function drawCurve(g,pts,sx,sy,color,width,name){
  const el=node(g,'path',{d:smoothPath(pts.map(p=>[sx(p[0]),sy(p[1])])),fill:'none',stroke:color,'stroke-width':width});
  
  
}
function drawFrame(g,box,name){
  const el=node(g,'rect',{x:box.x0,y:box.y0,width:box.x1-box.x0,height:box.y1-box.y0,fill:'none',stroke:SPINE,'stroke-width':1.2});
  
  
}
function drawTick(g,x1,y1,x2,y2){
  const el=node(g,'line',{x1:x1,y1:y1,x2:x2,y2:y2,stroke:'#333','stroke-width':1});
  
  
}
function drawTickLabel(g,x,y,str,size,anchor){
  const el=node(g,'text',{x:x,y:y,'font-size':size,'text-anchor':anchor,style:size>15?'fill:#000':'fill:#262626'});
  el.textContent=str;
  
  
}
function drawValueLabel(g,x,y,str,color,anchor){
  const el=node(g,'text',{x:x,y:y,'font-size':10.3,'text-anchor':anchor,style:'fill:'+color});
  el.textContent=str;
  
  
}
function drawMeanLine(g,x1,y1,x2,y2,color){
  const el=node(g,'line',{x1:x1,y1:y1,x2:x2,y2:y2,stroke:color,'stroke-width':1.7});
  
  
}
function drawPanel(c){
  const root=document.getElementById(c.id);
  const sx=linear(c.xDom[0],c.xDom[1],c.main.x0,c.main.x1);
  const sy=linear(c.yDom[0],c.yDom[1],c.main.y0,c.main.y1);
  const tx=sx;
  const ty=linear(c.topDom[0],c.topDom[1],c.top.y0,c.top.y1);
  const rx=linear(c.rightDom[0],c.rightDom[1],c.right.x0,c.right.x1);
  const ry=sy;
  drawClip(root,c.id+'-main',c.main);
  drawClip(root,c.id+'-top',c.top);
  drawClip(root,c.id+'-right',c.right);

  const gm=node(root,'g',{'clip-path':'url(#'+c.id+'-main)'});
  drawDense(gm,c.dense,sx,sy);
  drawGalah(gm,c.galah,sx,sy);
  if(c.extra)c.extra(gm,sx,sy);
  drawPrograde(gm,c.prograde,sx,sy);
  drawCrosses(gm,c.contamination,sx,sy);

  const gt=node(root,'g',{'clip-path':'url(#'+c.id+'-top)'});
  drawCurve(gt,c.topGalah,tx,ty,GREY,1.5,'top-galah-density');
  drawCurve(gt,c.topPro,tx,ty,BLUE,1.8,'top-prograde-density');
  drawMeanLine(gt,tx(c.topMeans[0]),c.top.y0,tx(c.topMeans[0]),c.top.y1,GREY);
  drawMeanLine(gt,tx(c.topMeans[1]),c.top.y0,tx(c.topMeans[1]),c.top.y1,BLUE);

  const gr=node(root,'g',{'clip-path':'url(#'+c.id+'-right)'});
  drawCurve(gr,c.rightGalah,rx,ry,GREY,1.5,'right-galah-density');
  drawCurve(gr,c.rightPro,rx,ry,BLUE,1.8,'right-prograde-density');
  drawMeanLine(gr,c.right.x0,ry(c.rightMeans[0]),c.right.x1,ry(c.rightMeans[0]),GREY);
  drawMeanLine(gr,c.right.x0,ry(c.rightMeans[1]),c.right.x1,ry(c.rightMeans[1]),BLUE);

  const gf=node(root,'g',{});
  drawFrame(gf,c.top,'top-density-axes');
  drawFrame(gf,c.right,'right-density-axes');
  drawFrame(gf,c.main,'main-axes');
  c.xTicks.forEach((t,i)=>{
    drawTick(gf,sx(t),c.main.y1,sx(t),c.main.y1+4.5);
    drawTickLabel(gf,sx(t),c.main.y1+23,c.xTickLabels[i],20,'middle');
  });
  c.yTicks.forEach((t,i)=>{
    drawTick(gf,c.main.x0,sy(t),c.main.x0-4.5,sy(t));
    drawTick(gf,c.main.x1,sy(t),c.main.x1-4.5,sy(t));
    drawTickLabel(gf,c.main.x0-8,sy(t)+7,c.yTickLabels[i],20,'end');
  });
  c.topXTicks.forEach(t=>drawTick(gf,tx(t),c.top.y1,tx(t),c.top.y1+4.5));
  c.topYTicks.forEach((t,i)=>{
    drawTick(gf,c.top.x0,ty(t),c.top.x0-4.5,ty(t));
    drawTickLabel(gf,c.top.x0-8,ty(t)+3.8,c.topYTickLabels[i],10.5,'end');
  });
  c.rightXTicks.forEach((t,i)=>{
    drawTick(gf,rx(t),c.right.y1,rx(t),c.right.y1+4.5);
    drawTickLabel(gf,rx(t),c.right.y1+18,c.rightXTickLabels[i],10.5,'middle');
  });
  const tColors=[GREY,'#2f7ccb'];
  c.topLabels.forEach((s,i)=>{
    drawValueLabel(gf,tx(c.topLabelAt[i][0]),ty(c.topLabelAt[i][1])+3.7,s,tColors[i],'start');
  });
  const rColors=c.rightLabels.length===1?['#2f7ccb']:[GREY,'#2f7ccb'];
  c.rightLabels.forEach((s,i)=>{
    drawValueLabel(gf,rx(c.rightLabelAt[i][0]),ry(c.rightLabelAt[i][1])+3.7,s,rColors[i],'middle');
  });
}
function drawRefLines(g,sx,sy){
  const x0=sx(-2.332),x1=sx(-.8);
  const colors=['#0a8a0a','#000000','#ffc0cb'];
  aRefLineValues.forEach((v,i)=>{
    const el=node(g,'line',{x1:x0,x2:x1,y1:sy(v),y2:sy(v),stroke:colors[i],'stroke-width':1.5,'stroke-dasharray':'5.5 2.4'});
    
    
  });
}
function drawRunning(g,sx,sy){
  const upper=dRunningX.map((x,i)=>sx(x).toFixed(1)+','+sy(dRunningUpper[i]).toFixed(1));
  const lower=dRunningX.map((x,i)=>sx(x).toFixed(1)+','+sy(dRunningLower[i]).toFixed(1)).reverse();
  const band=node(g,'polygon',{points:upper.concat(lower).join(' '),fill:BLUE,'fill-opacity':.3});
  
  
  const line=node(g,'polyline',{points:dRunningX.map((x,i)=>sx(x).toFixed(1)+','+sy(dRunningMean[i]).toFixed(1)).join(' '),fill:'none',stroke:BLUE,'stroke-width':1.7});
  
  
}
drawPanel({id:'panelA',
  main:{x0:118,x1:467.3,y0:136,y1:509},top:{x0:118,x1:467.3,y0:11.5,y1:136},right:{x0:467.3,x1:584,y0:136,y1:509},
  xDom:[-2.332,-.8],yDom:[1.826,-2.044],topDom:[2.33,-.112],rightDom:[-.058,1.339],
  dense:aGalahDense,galah:aGalah,prograde:aPrograde,contamination:aContamination,
  topPro:aTopProgradeDensity,topGalah:aTopGalahDensity,rightPro:aRightProgradeDensity,rightGalah:aRightGalahDensity,
  xTicks:aXTicks,xTickLabels:aXTickLabels,yTicks:aYTicks,yTickLabels:aYTickLabels,
  topXTicks:aTopXTicks,topYTicks:aTopYTicks,topYTickLabels:aTopYTickLabels,rightXTicks:aRightXTicks,rightXTickLabels:aRightXTickLabels,
  topMeans:aTopMeans,topLabels:aTopMeanLabels,topLabelAt:aTopMeanLabelAt,rightMeans:aRightMeans,rightLabels:aRightMeanLabels,rightLabelAt:aRightMeanLabelAt,
  extra:drawRefLines});
drawPanel({id:'panelB',
  main:{x0:721.7,x1:1061.7,y0:136,y1:509},top:{x0:721.7,x1:1061.7,y0:11.5,y1:136},right:{x0:1061.7,x1:1175,y0:136,y1:509},
  xDom:[-3.61,-.793],yDom:[2.463,-1.017],topDom:[1.572,-.08],rightDom:[-.05,1.103],
  dense:bGalahDense,galah:bGalah,prograde:bPrograde,contamination:bContamination,
  topPro:bTopProgradeDensity,topGalah:bTopGalahDensity,rightPro:bRightProgradeDensity,rightGalah:bRightGalahDensity,
  xTicks:bXTicks,xTickLabels:bXTickLabels,yTicks:bYTicks,yTickLabels:bYTickLabels,
  topXTicks:bTopXTicks,topYTicks:bTopYTicks,topYTickLabels:bTopYTickLabels,rightXTicks:bRightXTicks,rightXTickLabels:bRightXTickLabels,
  topMeans:bTopMeans,topLabels:bTopMeanLabels,topLabelAt:bTopMeanLabelAt,rightMeans:bRightMeans,rightLabels:bRightMeanLabels,rightLabelAt:bRightMeanLabelAt});
drawPanel({id:'panelC',
  main:{x0:100.3,x1:464.3,y0:736,y1:1107.7},top:{x0:100.3,x1:464.3,y0:610.3,y1:736},right:{x0:464.3,x1:586,y0:736,y1:1107.7},
  xDom:[-2.336,-.799],yDom:[2.47,-.064],topDom:[2.237,-.126],rightDom:[-.128,2.607],
  dense:cGalahDense,galah:cGalah,prograde:cPrograde,contamination:cContamination,
  topPro:cTopProgradeDensity,topGalah:cTopGalahDensity,rightPro:cRightProgradeDensity,rightGalah:cRightGalahDensity,
  xTicks:cXTicks,xTickLabels:cXTickLabels,yTicks:cYTicks,yTickLabels:cYTickLabels,
  topXTicks:cTopXTicks,topYTicks:cTopYTicks,topYTickLabels:cTopYTickLabels,rightXTicks:cRightXTicks,rightXTickLabels:cRightXTickLabels,
  topMeans:cTopMeans,topLabels:cTopMeanLabels,topLabelAt:cTopMeanLabelAt,rightMeans:cRightMeans,rightLabels:cRightMeanLabels,rightLabelAt:cRightMeanLabelAt});
drawPanel({id:'panelD',
  main:{x0:726.7,x1:1073.3,y0:735.5,y1:1107.7},top:{x0:726.7,x1:1073.3,y0:610,y1:735.5},right:{x0:1073.3,x1:1189,y0:735.5,y1:1107.7},
  xDom:[-2.338,-.797],yDom:[1.925,-.543],topDom:[2.339,-.122],rightDom:[-.115,2.556],
  dense:dGalahDense,galah:dGalah,prograde:dPrograde,contamination:dContamination,
  topPro:dTopProgradeDensity,topGalah:dTopGalahDensity,rightPro:dRightProgradeDensity,rightGalah:dRightGalahDensity,
  xTicks:dXTicks,xTickLabels:dXTickLabels,yTicks:dYTicks,yTickLabels:dYTickLabels,
  topXTicks:dTopXTicks,topYTicks:dTopYTicks,topYTickLabels:dTopYTickLabels,rightXTicks:dRightXTicks,rightXTickLabels:dRightXTickLabels,
  topMeans:dTopMeans,topLabels:dTopMeanLabels,topLabelAt:dTopMeanLabelAt,rightMeans:dRightMeans,rightLabels:dRightMeanLabels,rightLabelAt:dRightMeanLabelAt,
  extra:drawRunning});
</script>
</body>
</html>
